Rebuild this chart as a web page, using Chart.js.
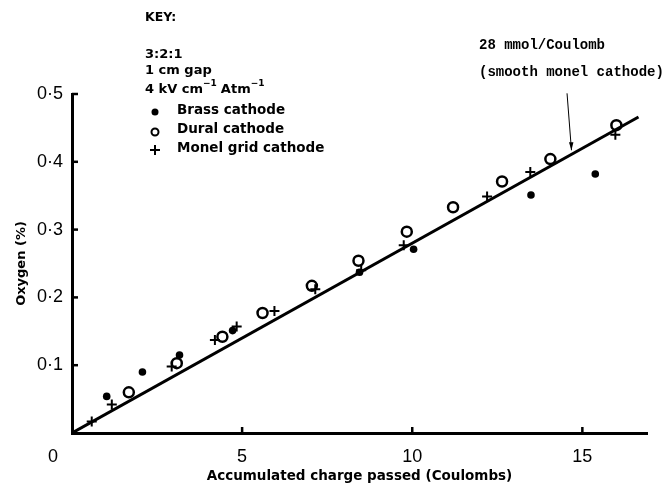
<!DOCTYPE html>
<html>
<head>
<meta charset="utf-8">
<script src="https://cdn.jsdelivr.net/npm/chart.js@4.4.0/dist/chart.umd.min.js"></script>
<style>
  html, body { margin: 0; padding: 0; background: #fff; }
</style>
</head>
<body>
<canvas id="chart" width="667" height="491"></canvas>
<script>
// values: accumulated charge (C) vs oxygen (%)
const brassX = [1.02, 2.07, 3.16, 4.72, 8.45, 10.04, 13.49, 15.38];
const brassY = [0.054, 0.090, 0.115, 0.151, 0.237, 0.271, 0.351, 0.382];

const duralX = [1.67, 3.08, 4.42, 5.60, 7.05, 8.42, 9.84, 11.20, 12.64, 14.06, 16.00];
const duralY = [0.060, 0.103, 0.142, 0.177, 0.217, 0.254, 0.297, 0.333, 0.371, 0.404, 0.454];

const monelX = [0.58, 1.17, 2.93, 4.20, 4.84, 5.95, 7.15, 8.50, 9.75, 12.20, 13.47, 15.97];
const monelY = [0.017, 0.042, 0.098, 0.137, 0.157, 0.180, 0.212, 0.240, 0.277, 0.349, 0.385, 0.440];

// fitted line, 28 mmol/Coulomb
const fitX = [0, 16.65];
const fitY = [0, 0.466];

const xTicks = [5, 10, 15];
const xTickLabels = ['5', '10', '15'];
const yTicks = [0.1, 0.2, 0.3, 0.4, 0.5];
const yTickLabels = ['0·1', '0·2', '0·3', '0·4', '0·5'];

const keyLines = ['3:2:1', '1 cm gap'];
const keyItems = ['Brass cathode', 'Dural cathode', 'Monel grid cathode'];
const noteLines = ['28 mmol/Coulomb', '(smooth monel cathode)'];
const arrowFrom = [14.55, 0.501];
const arrowTo = [14.68, 0.417];

const pts = (xs, ys) => xs.map((x, i) => ({ x: x, y: ys[i] }));

const FONT = 'DejaVu Sans';
const TICKFONT = 'Liberation Sans';

// draws inward ticks, origin label, key and the note with its arrow
const extras = {
  id: 'extras',
  afterDraw(chart) {
    const ctx = chart.ctx;
    const xs = chart.scales.x, ys = chart.scales.y;
    const a = chart.chartArea;
    ctx.save();
    ctx.strokeStyle = '#000';
    ctx.fillStyle = '#000';
    ctx.lineWidth = 2.5;
    yTicks.forEach(v => {
      const py = ys.getPixelForValue(v);
      ctx.beginPath();
      ctx.moveTo(a.left, py);
      ctx.lineTo(a.left + 6, py);
      ctx.stroke();
    });
    xTicks.forEach(v => {
      const px = xs.getPixelForValue(v);
      ctx.beginPath();
      ctx.moveTo(px, a.bottom);
      ctx.lineTo(px, a.bottom - 6);
      ctx.stroke();
    });

    // origin label
    ctx.font = '18px "' + TICKFONT + '"';
    ctx.textAlign = 'center';
    ctx.textBaseline = 'middle';
    ctx.fillText('0', a.left - 19, a.bottom + 24);

    // key
    ctx.textAlign = 'left';
    ctx.font = 'bold 12.5px ' + FONT;
    ctx.fillText('KEY:', 145, 18);
    ctx.font = 'bold 13px ' + FONT;
    ctx.fillText(keyLines[0], 145, 55);
    ctx.fillText(keyLines[1], 145, 71);
    let x = 145;
    ctx.fillText('4 kV cm', x, 90);
    x += ctx.measureText('4 kV cm').width;
    ctx.font = 'bold 9px ' + FONT;
    ctx.fillText('−1', x, 84);
    x += ctx.measureText('−1').width + 4;
    ctx.font = 'bold 13px ' + FONT;
    ctx.fillText('Atm', x, 90);
    x += ctx.measureText('Atm').width;
    ctx.font = 'bold 9px ' + FONT;
    ctx.fillText('−1', x, 84);

    ctx.font = 'bold 13.5px ' + FONT;
    const ky = [110, 129, 148];
    keyItems.forEach((t, i) => ctx.fillText(t, 177, ky[i]));
    ctx.beginPath();
    ctx.arc(155, 112, 3.5, 0, Math.PI * 2);
    ctx.fill();
    ctx.lineWidth = 2;
    ctx.beginPath();
    ctx.arc(155, 132, 3.5, 0, Math.PI * 2);
    ctx.stroke();
    ctx.beginPath();
    ctx.moveTo(150, 150); ctx.lineTo(160, 150);
    ctx.moveTo(155, 145); ctx.lineTo(155, 155);
    ctx.stroke();

    // note + arrow
    ctx.font = 'bold 14px "Liberation Mono"';
    ctx.fillText(noteLines[0], 479, 45);
    ctx.fillText(noteLines[1], 479, 72);
    const x1 = xs.getPixelForValue(arrowFrom[0]), y1 = ys.getPixelForValue(arrowFrom[1]);
    const x2 = xs.getPixelForValue(arrowTo[0]), y2 = ys.getPixelForValue(arrowTo[1]);
    ctx.lineWidth = 1;
    ctx.beginPath();
    ctx.moveTo(x1, y1); ctx.lineTo(x2, y2);
    ctx.stroke();
    ctx.beginPath();
    ctx.moveTo(x2, y2);
    ctx.lineTo(x2 - 2.5, y2 - 8);
    ctx.lineTo(x2 + 2, y2 - 8);
    ctx.closePath();
    ctx.fill();
    ctx.restore();
  }
};

new Chart(document.getElementById('chart'), {
  type: 'scatter',
  data: {
    datasets: [
      {
        label: 'Brass cathode',
        data: pts(brassX, brassY),
        pointStyle: 'circle',
        pointRadius: 3.8,
        backgroundColor: '#000',
        borderColor: '#000',
        borderWidth: 0
      },
      {
        label: 'Dural cathode',
        data: pts(duralX, duralY),
        pointStyle: 'circle',
        pointRadius: 5,
        backgroundColor: 'rgba(0,0,0,0)',
        borderColor: '#000',
        borderWidth: 2.5
      },
      {
        label: 'Monel grid cathode',
        data: pts(monelX, monelY),
        pointStyle: 'cross',
        pointRadius: 5,
        borderColor: '#000',
        borderWidth: 2
      },
      {
        type: 'line',
        label: 'fit',
        data: pts(fitX, fitY),
        borderColor: '#000',
        borderWidth: 3,
        pointRadius: 0,
        fill: false
      }
    ]
  },
  options: {
    responsive: false,
    animation: false,
    devicePixelRatio: 1,
    layout: { padding: { top: 94, right: 20, left: 0, bottom: 0 } },
    plugins: { legend: { display: false }, tooltip: { enabled: false } },
    scales: {
      x: {
        type: 'linear',
        min: 0,
        max: 16.9,
        afterFit: s => { s.height = 58; },
        afterBuildTicks: s => { s.ticks = xTicks.map(v => ({ value: v })); },
        grid: { display: false, drawTicks: false },
        border: { display: true, color: '#000', width: 3 },
        ticks: {
          padding: 13,
          color: '#000',
          font: { family: TICKFONT, size: 18 },
          maxRotation: 0,
          callback: v => xTickLabels[xTicks.indexOf(v)]
        },
        title: {
          display: true,
          text: 'Accumulated charge passed (Coulombs)',
          color: '#000',
          font: { family: FONT, size: 13.5, weight: 'bold' },
          padding: { top: 4, bottom: 6 }
        }
      },
      y: {
        type: 'linear',
        min: 0,
        max: 0.5,
        afterFit: s => { s.width = 72; },
        afterBuildTicks: s => { s.ticks = yTicks.map(v => ({ value: v })); },
        grid: { display: false, drawTicks: false },
        border: { display: true, color: '#000', width: 3 },
        ticks: {
          padding: 9,
          color: '#000',
          font: { family: TICKFONT, size: 18 },
          callback: v => yTickLabels[yTicks.indexOf(v)]
        },
        title: {
          display: true,
          text: 'Oxygen (%)',
          color: '#000',
          font: { family: FONT, size: 13, weight: 'bold' },
          padding: 14
        }
      }
    }
  },
  plugins: [extras]
});
</script>
</body>
</html>
